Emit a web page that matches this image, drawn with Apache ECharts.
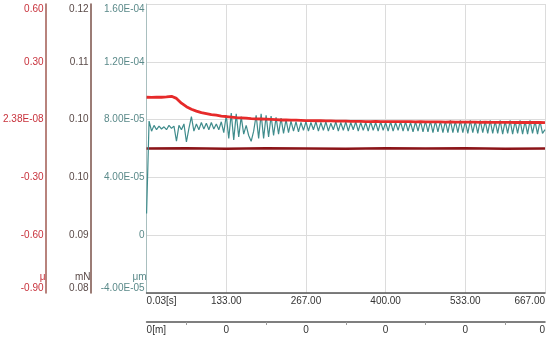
<!DOCTYPE html>
<html><head><meta charset="utf-8">
<script src="https://cdn.jsdelivr.net/npm/echarts@6/dist/echarts.min.js"></script>
<style>html,body{margin:0;padding:0;background:#fff}#c{width:550px;height:338px}</style>
</head><body><div id="c"></div>
<script>
// Tick labels
const muLabels = ['-0.90','-0.60','-0.30','2.38E-08','0.30','0.60'];
const mnLabels = ['0.08','0.09','0.10','0.10','0.11','0.12'];
const umLabels = ['-4.00E-05','0','4.00E-05','8.00E-05','1.20E-04','1.60E-04'];
const timeLabels = ['0.03[s]','133.00','267.00','400.00','533.00','667.00'];
const distLabels = ['0[m]','0','0','0','0','0'];
const tEnd = 666.665;

// Friction coefficient μ (red), sampled every tEnd/80 s
const muValues = [0.116,0.115,0.117,0.116,0.118,0.121,0.110,0.085,0.067,0.054,
0.044,0.036,0.031,0.026,0.023,0.018,0.016,0.013,0.010,0.009,
0.008,0.005,0.004,0.003,0.002,0.001,0.000,-0.002,-0.001,-0.003,
-0.003,-0.004,-0.005,-0.005,-0.006,-0.006,-0.007,-0.007,-0.008,-0.008,
-0.008,-0.009,-0.009,-0.009,-0.010,-0.010,-0.009,-0.010,-0.010,-0.011,
-0.010,-0.011,-0.011,-0.011,-0.012,-0.011,-0.012,-0.012,-0.012,-0.012,
-0.013,-0.012,-0.013,-0.013,-0.013,-0.013,-0.013,-0.014,-0.013,-0.014,
-0.014,-0.014,-0.014,-0.014,-0.015,-0.014,-0.015,-0.015,-0.015,-0.015,-0.016];

// Load mN (dark red), sampled every tEnd/10 s
const loadValues = [0.1000,0.10003,0.09998,0.10002,0.1000,0.09998,0.10002,0.1000,0.10002,0.09998,0.1000];

// Displacement in units of 1E-05 μm (teal), sampled every tEnd/160 s
const dispValues = [1.5,7.9,7.2,7.6,7.3,7.55,7.35,7.5,7.3,7.6,
7.4,7.55,6.5,7.6,7.3,7.7,6.45,7.4,8.2,7.2,
7.7,7.3,7.8,7.35,7.75,7.3,7.8,7.35,7.7,7.3,
7.85,7.1,8.3,6.7,8.45,6.6,8.4,6.8,8.2,7.0,
7.6,6.9,6.5,7.2,8.3,6.7,8.4,6.7,8.3,6.8,
8.25,6.9,8.15,7.0,8.1,7.05,8.0,7.1,7.9,7.2,
7.85,7.15,7.8,7.25,7.85,7.2,7.8,7.3,7.85,7.2,
7.8,7.25,7.85,7.2,7.75,7.3,7.85,7.2,7.8,7.25,
7.85,7.2,7.8,7.3,7.85,7.2,7.8,7.25,7.8,7.2,
7.85,7.25,7.8,7.2,7.85,7.25,7.8,7.2,7.85,7.2,
7.8,7.25,7.85,7.2,7.85,7.2,7.8,7.15,7.85,7.2,
7.9,7.15,7.9,7.15,7.9,7.1,7.9,7.15,7.9,7.1,
7.9,7.1,7.95,7.1,7.9,7.1,7.95,7.1,7.9,7.05,
7.95,7.1,7.9,7.05,7.95,7.1,7.9,7.05,7.95,7.05,
7.9,7.05,7.95,7.0,7.9,7.05,7.95,7.0,7.9,7.05,
7.95,7.0,7.9,7.0,7.95,7.05,7.9,7.0,7.9,7.05,7.3];

const toPairs = (vals) => vals.map((v, i) => [i * tEnd / (vals.length - 1), v]);

const font = "'Liberation Sans Narrow','Liberation Sans',Arial,sans-serif";
const chart = echarts.init(document.getElementById('c'), null, {renderer:'canvas'});

function yAx(opt) {
  return Object.assign({
    type:'value', position:'left', gridIndex:0,
    axisLine:{show:true, onZero:false, lineStyle:{width:1.5}},
    axisTick:{show:false},
    splitLine:{show:false},
    nameLocation:'start', nameGap:-16,
  }, opt);
}

chart.setOption({
  animation:false,
  grid:{left:146, right:5, top:4, bottom:45, containLabel:false},
  xAxis:[
    {type:'value', min:0, max:tEnd, interval:tEnd/5,
     axisLine:{show:true, onZero:false, lineStyle:{color:'#555', width:1.5}},
     axisTick:{show:false},
     splitLine:{show:true, lineStyle:{color:'#dcdcdc', width:1}},
     axisLabel:{fontSize:10, fontFamily:font, color:'#333', margin:3,
       alignMinLabel:'left', alignMaxLabel:'right',
       formatter:(v,i)=>timeLabels[i]}},
    {type:'value', min:0, max:tEnd, interval:tEnd/5, position:'bottom', offset:29,
     axisLine:{show:true, onZero:false, lineStyle:{color:'#555', width:1.5}},
     axisTick:{show:false},
     minorTick:{show:true, splitNumber:2, length:3, lineStyle:{color:'#999'}},
     splitLine:{show:false},
     axisLabel:{fontSize:10, fontFamily:font, color:'#333', margin:3,
       alignMinLabel:'left', alignMaxLabel:'right',
       formatter:(v,i)=>distLabels[i]}}
  ],
  yAxis:[
    yAx({min:-0.9, max:0.6, interval:0.3, offset:101, name:'μ',
      nameTextStyle:{color:'#c8323c', fontSize:10, fontFamily:font, align:'right', verticalAlign:'middle'},
      axisLine:{show:true, onZero:false, lineStyle:{color:'#a05a52', width:1.5}},
      axisLabel:{fontSize:10, fontFamily:font, color:'#c8323c', margin:2,
        verticalAlignMinLabel:'bottom', verticalAlignMaxLabel:'top',
        formatter:(v,i)=>muLabels[i]}}),
    yAx({min:0.08, max:0.12, interval:0.008, offset:56, name:'mN',
      nameTextStyle:{color:'#5a4a48', fontSize:10, fontFamily:font, align:'right', verticalAlign:'middle'},
      axisLine:{show:true, onZero:false, lineStyle:{color:'#7a5048', width:1.5}},
      axisLabel:{fontSize:10, fontFamily:font, color:'#5a4a48', margin:2,
        verticalAlignMinLabel:'bottom', verticalAlignMaxLabel:'top',
        formatter:(v,i)=>mnLabels[i]}}),
    yAx({min:-4, max:16, interval:4, offset:0, name:'μm',
      nameTextStyle:{color:'#5b8a8a', fontSize:10, fontFamily:font, align:'right', verticalAlign:'middle'},
      axisLine:{show:true, onZero:false, lineStyle:{color:'#a9bfbf', width:1}},
      splitLine:{show:true, lineStyle:{color:'#dcdcdc', width:1}},
      axisLabel:{fontSize:10, fontFamily:font, color:'#5b8a8a', margin:2,
        verticalAlignMinLabel:'bottom', verticalAlignMaxLabel:'top',
        formatter:(v,i)=>umLabels[i]}})
  ],
  series:[
    {type:'line', xAxisIndex:0, yAxisIndex:1, data:toPairs(loadValues), showSymbol:false,
     lineStyle:{color:'#8b1418', width:2.5}},
    {type:'line', xAxisIndex:0, yAxisIndex:2, data:toPairs(dispValues), showSymbol:false,
     lineStyle:{color:'#3f8c8c', width:1.2}},
    {type:'line', xAxisIndex:0, yAxisIndex:0, data:toPairs(muValues), showSymbol:false,
     lineStyle:{color:'#e62a2a', width:2.8}}
  ]
});
</script></body></html>
